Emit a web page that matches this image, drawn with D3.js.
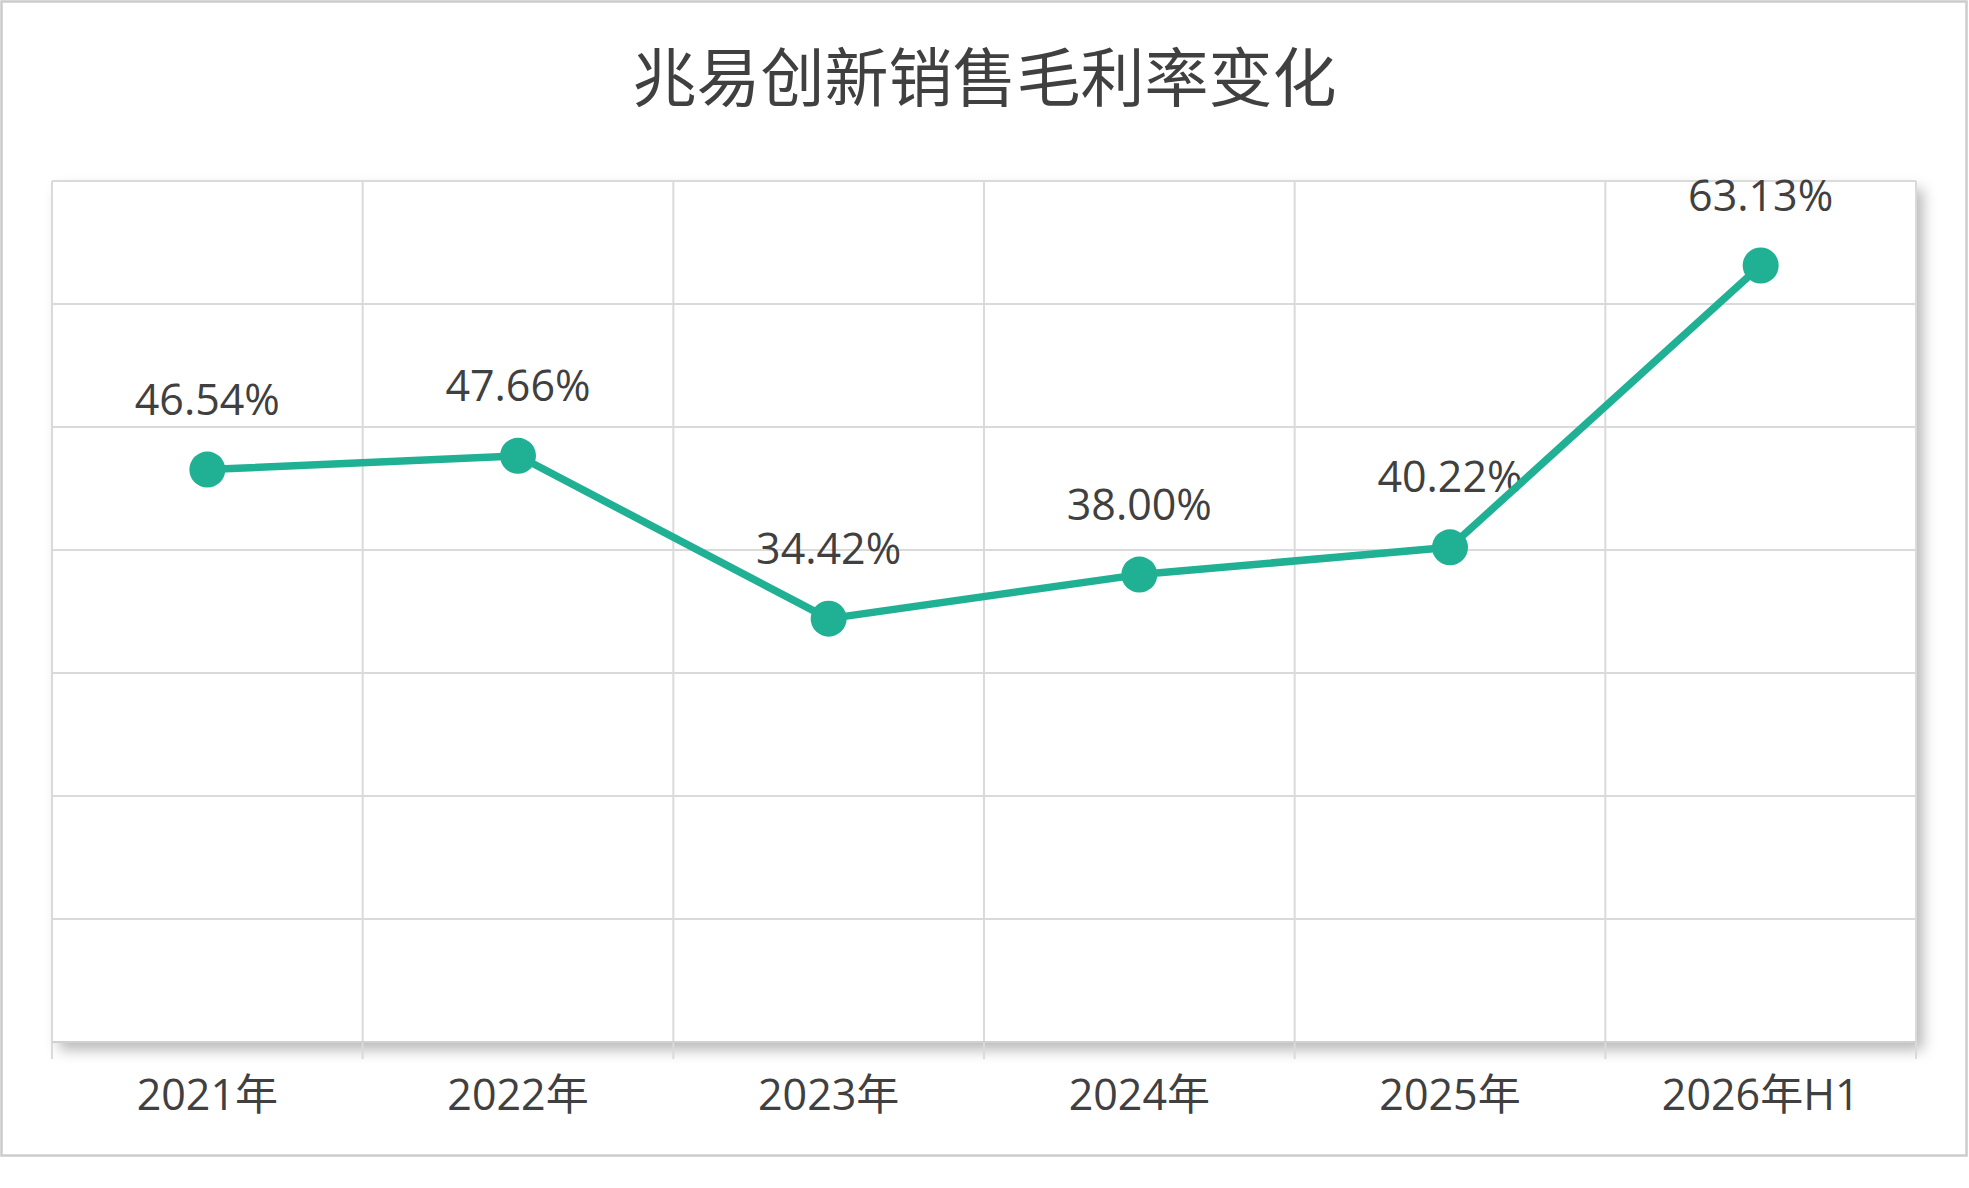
<!DOCTYPE html>
<html>
<head>
<meta charset="utf-8">
<script src="https://cdn.jsdelivr.net/npm/d3@7/dist/d3.min.js"></script>
<style>
html,body{margin:0;padding:0;background:#fff;}
svg{display:block;}
text{font-family:"Open Sans","Noto Sans CJK SC",sans-serif;}
</style>
</head>
<body>
<svg id="chart" width="1969" height="1188"></svg>
<script>
const title = "兆易创新销售毛利率变化";
const categories = ["2021年","2022年","2023年","2024年","2025年","2026年H1"];
const margins = [46.54, 47.66, 34.42, 38.00, 40.22, 63.13];
const yTicks = [0,10,20,30,40,50,60,70];

const W = 1969, H = 1188;
const plot = {left:52, right:1916, top:181, bottom:1042};
const lineColor = "#20b093";
const textColor = "#404040";
const gridColor = "#dadada";

const svg = d3.select("#chart");

const defs = svg.append("defs");
const f = defs.append("filter").attr("id","shadow")
  .attr("x","-5%").attr("y","-5%").attr("width","112%").attr("height","115%");
f.append("feDropShadow").attr("dx",7).attr("dy",8).attr("stdDeviation",7)
  .attr("flood-color","#000").attr("flood-opacity",0.28);

// outer border
svg.append("rect").attr("x",1.5).attr("y",1.5).attr("width",W-4).attr("height",1154)
  .attr("fill","#fff").attr("stroke","#cccccc").attr("stroke-width",2.5);

// title
svg.append("text").attr("x",W/2).attr("y",101).attr("text-anchor","middle")
  .attr("font-family","'Noto Sans CJK SC',sans-serif")
  .attr("font-size",64).attr("fill",textColor).text(title);

const x = d3.scaleBand().domain(categories).range([plot.left, plot.right]).padding(0);
const y = d3.scaleLinear().domain([0,70]).range([plot.bottom, plot.top]);

// plot background with shadow
svg.append("rect").attr("x",plot.left).attr("y",plot.top)
  .attr("width",plot.right-plot.left).attr("height",plot.bottom-plot.top)
  .attr("fill","#fff").attr("filter","url(#shadow)");

// horizontal grid
const grid = svg.append("g");
grid.selectAll("line.h").data(yTicks).join("line").attr("class","h")
  .attr("x1",plot.left).attr("x2",plot.right)
  .attr("y1",d=>y(d)).attr("y2",d=>y(d))
  .attr("stroke",gridColor).attr("stroke-width",2);

// vertical grid / ticks at band boundaries
const bounds = categories.map(c=>x(c)).concat([plot.right]);
grid.selectAll("line.v").data(bounds).join("line").attr("class","v")
  .attr("x1",d=>d).attr("x2",d=>d)
  .attr("y1",plot.top).attr("y2",plot.bottom+17)
  .attr("stroke",gridColor).attr("stroke-width",2);

// bottom axis line slightly darker
svg.append("line").attr("x1",plot.left).attr("x2",plot.right)
  .attr("y1",plot.bottom).attr("y2",plot.bottom)
  .attr("stroke","#d0d0d0").attr("stroke-width",2);

// x labels
svg.append("g").selectAll("text").data(categories).join("text")
  .attr("x",d=>x(d)+x.bandwidth()/2).attr("y",1110)
  .attr("text-anchor","middle").attr("font-size",43).attr("fill",textColor)
  .text(d=>d);

const pts = categories.map((c,i)=>({c, v:margins[i]}));
const cx = d=>x(d.c)+x.bandwidth()/2;

// data labels
svg.append("g").selectAll("text").data(pts).join("text")
  .attr("x",cx).attr("y",d=>y(d.v)-55)
  .attr("text-anchor","middle").attr("font-size",43).attr("fill",textColor)
  .text(d=>d.v.toFixed(2)+"%");

// line
svg.append("path").datum(pts)
  .attr("d",d3.line().x(cx).y(d=>y(d.v)))
  .attr("fill","none").attr("stroke",lineColor).attr("stroke-width",7.5)
  .attr("stroke-linejoin","round");

// markers
svg.append("g").selectAll("circle").data(pts).join("circle")
  .attr("cx",cx).attr("cy",d=>y(d.v)).attr("r",18).attr("fill",lineColor);
</script>
</body>
</html>
